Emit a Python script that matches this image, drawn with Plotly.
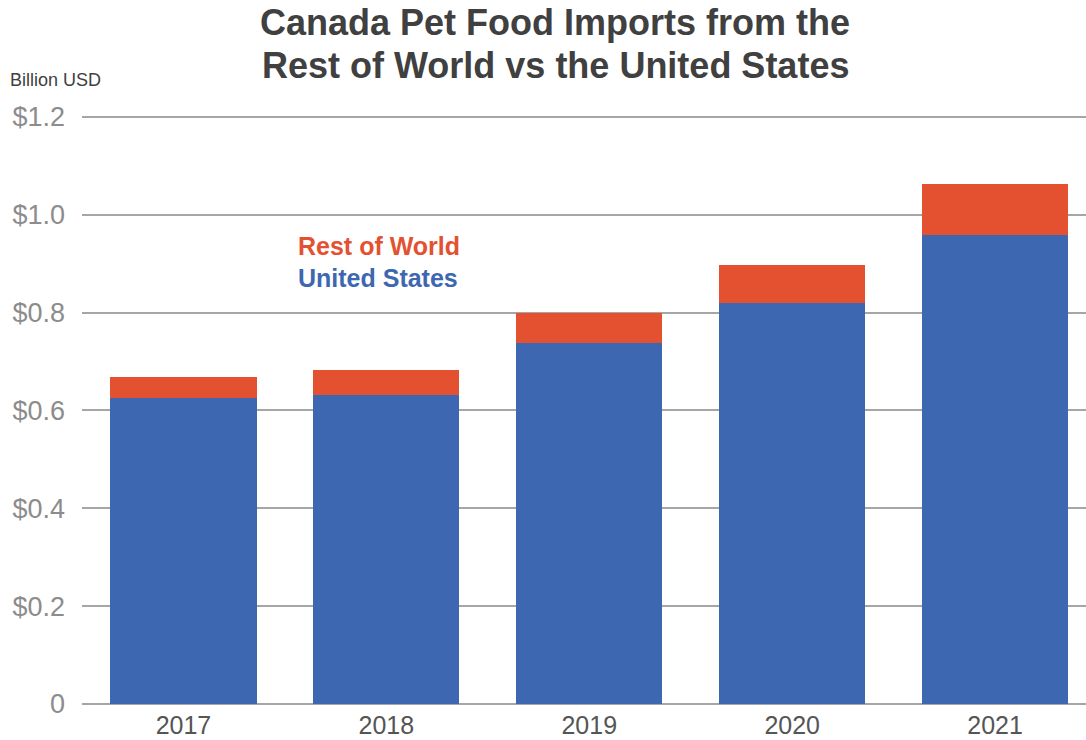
import plotly.graph_objects as go

years = ["2017", "2018", "2019", "2020", "2021"]
united_states = [0.626, 0.631, 0.737, 0.820, 0.958]
rest_of_world = [0.042, 0.052, 0.062, 0.078, 0.105]
tick_vals = [0, 0.2, 0.4, 0.6, 0.8, 1.0, 1.2]
tick_text = ["0", "$0.2", "$0.4", "$0.6", "$0.8", "$1.0", "$1.2"]
title_lines = ["Canada Pet Food Imports from the", "Rest of World vs the United States"]

BLUE = "#3d67b1"
ORANGE = "#e45131"
W, H = 1086, 740
ML, MR, MT, MB = 82, 0, 112, 36
PW, PH = W - ML - MR, H - MT - MB


def px_x(x):
    return (x - ML) / PW


def px_y(y):
    return (H - MB - y) / PH


fig = go.Figure()
fig.add_trace(go.Bar(x=years, y=united_states, name="United States",
                     marker=dict(color=BLUE, line=dict(width=0)), width=0.72))
fig.add_trace(go.Bar(x=years, y=rest_of_world, name="Rest of World",
                     marker=dict(color=ORANGE, line=dict(width=0)), width=0.72))

annotations = [
    dict(text="<b>%s</b>" % title_lines[0], xref="paper", yref="paper", x=px_x(555),
         xanchor="center", y=px_y(22), yanchor="middle", showarrow=False,
         font=dict(size=36, color="#404040")),
    dict(text="<b>%s</b>" % title_lines[1], xref="paper", yref="paper", x=px_x(555),
         xanchor="center", y=px_y(65), yanchor="middle", showarrow=False,
         font=dict(size=36, color="#404040")),
    dict(text="Billion USD", xref="paper", yref="paper", x=px_x(8), xanchor="left",
         y=px_y(80), yanchor="middle", showarrow=False,
         font=dict(size=18, color="#404040")),
    dict(text="<b>Rest of World</b>", xref="x", yref="y", x=0.555, xanchor="left",
         y=0.937, yanchor="middle", showarrow=False,
         font=dict(size=25, color=ORANGE)),
    dict(text="<b>United States</b>", xref="x", yref="y", x=0.555, xanchor="left",
         y=0.870, yanchor="middle", showarrow=False,
         font=dict(size=25, color=BLUE)),
]

fig.update_layout(
    barmode="stack",
    width=W, height=H,
    margin=dict(l=ML, r=MR, t=MT, b=MB),
    paper_bgcolor="white", plot_bgcolor="white",
    showlegend=False,
    font=dict(family="Liberation Sans, Arial, sans-serif"),
    xaxis=dict(
        type="category", range=[-0.5, 4.448],
        showgrid=False, showline=False, zeroline=False, ticks="",
        ticklabelstandoff=4,
        tickfont=dict(size=25, color="#555555"),
    ),
    yaxis=dict(
        range=[0, 1.21], tickvals=tick_vals, ticktext=tick_text,
        showgrid=True, gridcolor="#a6a6a6", gridwidth=1.5,
        zeroline=True, zerolinecolor="#a6a6a6", zerolinewidth=1.5,
        showline=False, ticks="", ticklabelstandoff=16,
        tickfont=dict(size=27, color="#8c8c8c"),
    ),
    annotations=annotations,
)

fig.write_html("out.html", config={"displayModeBar": False},
               post_script="document.body.style.margin='0';")
